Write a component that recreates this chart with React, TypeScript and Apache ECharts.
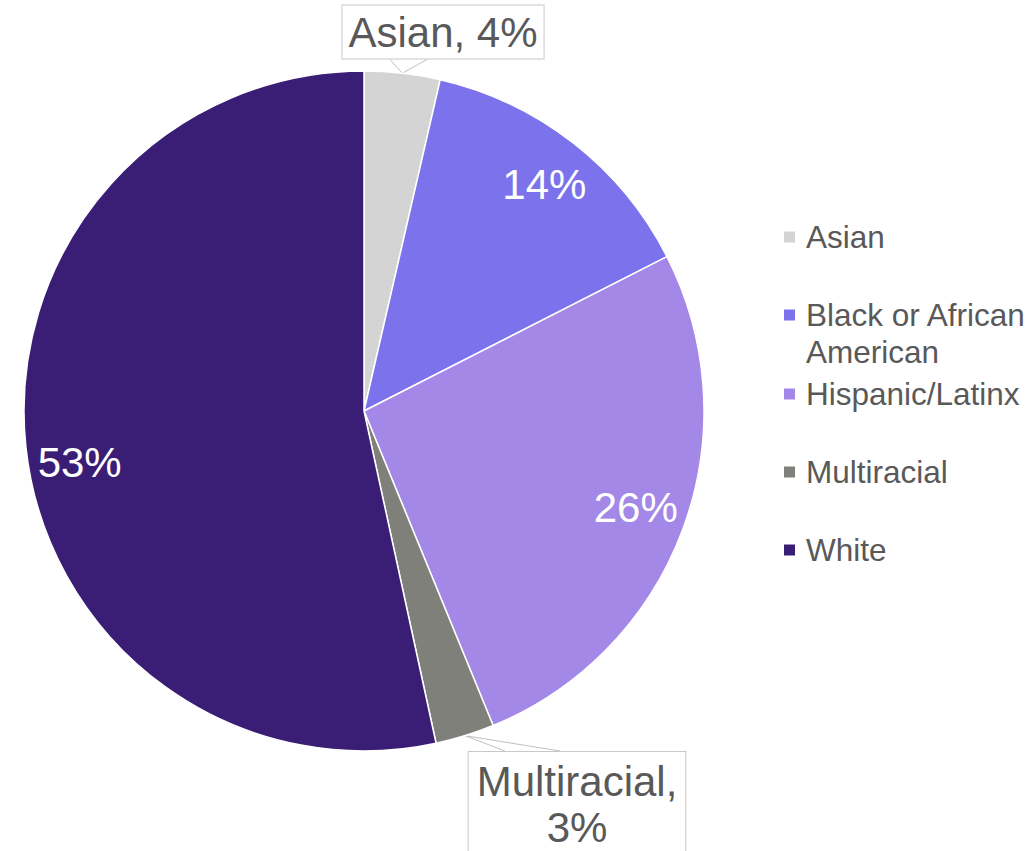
import React, { useEffect, useRef } from "react";
import * as echarts from "echarts";

const categories = ["Asian", "Black or African\nAmerican", "Hispanic/Latinx", "Multiracial", "White"];
const labelNames = ["Asian", "Black or African American", "Hispanic/Latinx", "Multiracial", "White"];
const values = [3.6, 13.9, 26.3, 2.8, 53.4];
const colors = ["#d4d4d4", "#7b72ec", "#a388e8", "#80807b", "#3a1e76"];
const calloutIndices = [0, 3];

const FONT = "'Liberation Sans', Arial, sans-serif";

export default function App() {
  const ref = useRef<HTMLDivElement>(null);
  useEffect(() => {
    if (!ref.current) return;
    const chart = echarts.init(ref.current, null, { renderer: "svg" });
    const pct = (p: any) => Math.round(p.percent) + "%";
    const mainData = categories.map((name, i) => ({
      name,
      value: values[i],
      itemStyle: { color: colors[i] },
      label: calloutIndices.includes(i)
        ? {
            show: true,
            position: "outside",
            formatter: (p: any) =>
              i === 3 ? labelNames[i] + ",\n" + pct(p) : labelNames[i] + ", " + pct(p),
            fontSize: 42,
            lineHeight: 46,
            color: "#595959",
            fontFamily: FONT,
            backgroundColor: "#ffffff",
            borderColor: "#c8c8c8",
            borderWidth: 1,
            padding: i === 3 ? [6, 8, 6, 8] : [4, 6, 3, 6],
            align: "center",
          }
        : { show: false },
      labelLine: calloutIndices.includes(i)
        ? { show: true, lineStyle: { color: "#c0c0c0", width: 1 } }
        : { show: false },
    }));
    const innerData = categories.map((name, i) => ({
      name,
      value: values[i],
      itemStyle: { color: "rgba(0,0,0,0)", borderWidth: 0 },
      label: { show: !calloutIndices.includes(i) },
    }));
    const legendText = {
      fontSize: 31.5,
      lineHeight: 37,
      color: "#595959",
      fontFamily: FONT,
      padding: [0, 0, 0, 5],
    };
    const legendBase = {
      orient: "vertical",
      left: 777,
      itemGap: 41,
      itemWidth: 13,
      itemHeight: 13,
      icon: "rect",
      selectedMode: false,
    };
    chart.setOption({
      animation: false,
      legend: [
        { ...legendBase, top: 213.5, data: [categories[0]], textStyle: legendText },
        {
          ...legendBase,
          top: 254.5,
          data: [categories[1]],
          formatter: (name: string) => "\n" + name,
          textStyle: legendText,
        },
        { ...legendBase, top: 370.5, data: categories.slice(2), textStyle: legendText },
      ],
      series: [
        {
          type: "pie",
          center: [364, 411],
          radius: 340,
          startAngle: 90,
          clockwise: true,
          avoidLabelOverlap: false,
          itemStyle: { borderColor: "#ffffff", borderWidth: 1.5 },
          emphasis: { disabled: true },
          labelLayout: (params: any) => {
            const tip = params.labelLinePoints ? params.labelLinePoints[0] : null;
            const h = params.labelRect.height;
            if (params.dataIndex === 0) {
              const out: any = { x: 443, y: 32, align: "center", verticalAlign: "middle" };
              if (tip) {
                const yb = 32 + h / 2;
                out.labelLinePoints = [[390, yb], [tip[0], tip[1]], [427, yb]];
              }
              return out;
            }
            if (params.dataIndex === 3) {
              const out: any = { x: 577, y: 804, align: "center", verticalAlign: "middle" };
              if (tip) {
                const yt = 804 - h / 2;
                out.labelLinePoints = [[505, yt], [tip[0], tip[1]], [560, yt]];
              }
              return out;
            }
            return {};
          },
          labelLine: { length: 10, length2: 10 },
          data: mainData,
        },
        {
          type: "pie",
          center: [364, 411],
          radius: [278, 302],
          startAngle: 90,
          clockwise: true,
          silent: true,
          legendHoverLink: false,
          avoidLabelOverlap: false,
          emphasis: { disabled: true },
          label: {
            position: "inside",
            formatter: pct,
            fontSize: 42,
            color: "#ffffff",
            fontFamily: FONT,
          },
          labelLine: { show: false },
          labelLayout: (params: any) => {
            if (params.dataIndex === 4) return { dx: 7, dy: 20 };
            if (params.dataIndex === 1) return { dx: 0, dy: 4 };
            if (params.dataIndex === 2) return { dx: -3, dy: -5 };
            return {};
          },
          data: innerData,
        },
      ],
    });
    return () => chart.dispose();
  }, []);
  return (
    <div
      ref={ref}
      style={{ position: "absolute", left: 0, top: 0, width: 1035, height: 851, background: "#fff" }}
    />
  );
}
